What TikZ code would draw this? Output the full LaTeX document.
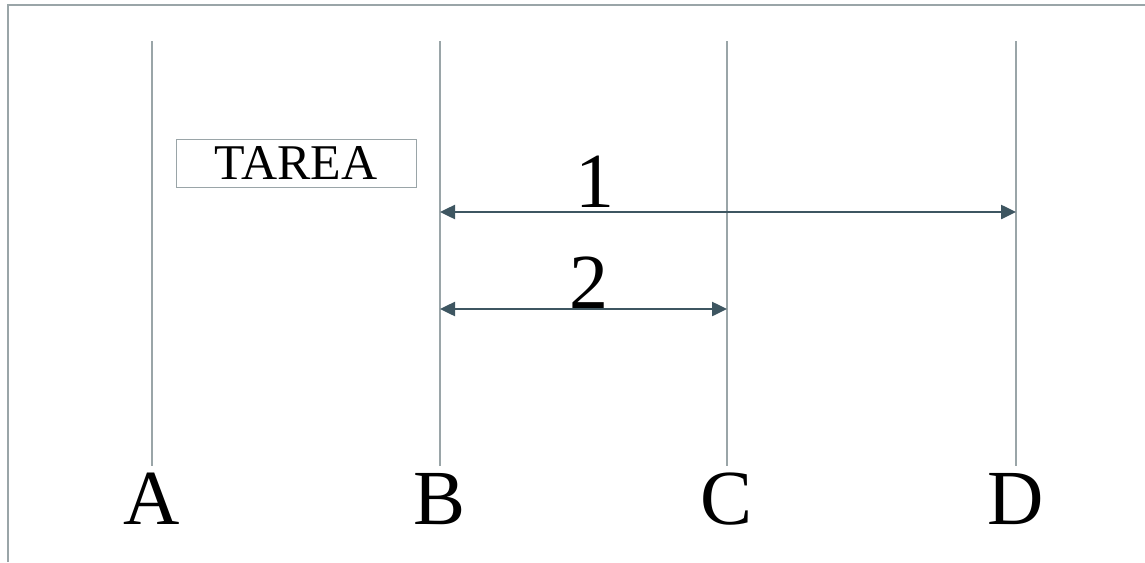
\documentclass[tikz,border=0pt]{standalone}
\usepackage{fontspec}
\setmainfont{Liberation Serif}
\usetikzlibrary{arrows.meta}
\definecolor{linegray}{HTML}{9AA5A8}
\definecolor{arrowslate}{HTML}{3E5661}

\begin{document}
\begin{tikzpicture}[x=1pt, y=-1pt,
			>={Triangle[length=15pt,width=14pt]},
			every node/.style={inner sep=0pt, font=\fontsize{78}{78}\selectfont},
			lane/.style={draw=linegray, line width=2pt},
			span/.style={<->, draw=arrowslate, line width=2.5pt}
			]
			\useasboundingbox (0,0) rectangle (1145,562);
			
			% kader
			\draw[lane] (8,562) -- (8,5) -- (1145,5);
			
			% vier lijnen met letters
			\foreach \n/\x in {A/152, B/440, C/727, D/1016} {
				\coordinate (\n top) at (\x,41);
				\coordinate (\n bot) at (\x,466);
				\draw[lane] (\n top) -- (\n bot);
				\node[anchor=base] (\n) at (\x,524) {\n};
			}
			
			% taak
			\node[draw=linegray, line width=1pt, minimum width=240pt, minimum height=48pt,
			      font=\fontsize{50}{50}\selectfont] (tarea) at (296,163) {TAREA};
			
			% pijlen
			\coordinate (B1) at (440,212);
			\coordinate (D1) at (1016,212);
			\coordinate (B2) at (440,309);
			\coordinate (C2) at (727,309);
			\draw[span] (B1) -- node[pos=0.269, anchor=base, yshift=5pt] (one) {1} (D1);
			\draw[span] (B2) -- node[pos=0.52, anchor=base, yshift=1pt] (two) {2} (C2);
			
		\end{tikzpicture}
\end{document}
